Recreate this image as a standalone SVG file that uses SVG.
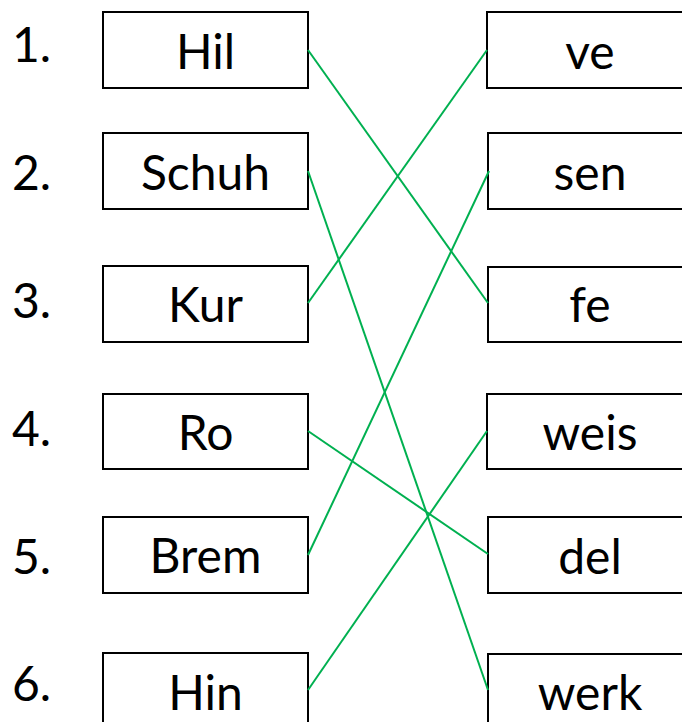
<svg xmlns="http://www.w3.org/2000/svg" width="682" height="722" viewBox="0 0 682 722">
<style>
.box{fill:#fff;stroke:#000;stroke-width:2}
.t{font-family:Lato,"Open Sans","Liberation Sans",sans-serif;font-size:48px;fill:#000}
.c{text-anchor:middle}
.ln{stroke:#00B050;stroke-width:2;fill:none}
</style>
<rect width="682" height="722" fill="#fff"/>
<g id="numbers">
<text class="t" x="12" y="62">1.</text>
<text class="t" x="12" y="190">2.</text>
<text class="t" x="12" y="318">3.</text>
<text class="t" x="12" y="446">4.</text>
<text class="t" x="12" y="574">5.</text>
<text class="t" x="12" y="701">6.</text>
</g>
<g id="L1"><rect class="box" x="103" y="12" width="205" height="76"/><text class="t c" x="205.5" y="69">Hil</text></g>
<g id="L2"><rect class="box" x="103" y="133" width="205" height="76"/><text class="t c" x="205.5" y="190">Schuh</text></g>
<g id="L3"><rect class="box" x="103" y="266" width="205" height="76"/><text class="t c" x="205.5" y="322">Kur</text></g>
<g id="L4"><rect class="box" x="103" y="394" width="205" height="75"/><text class="t c" x="205.5" y="450">Ro</text></g>
<g id="L5"><rect class="box" x="103" y="517" width="205" height="76"/><text class="t c" x="205.5" y="573">Brem</text></g>
<g id="L6"><rect class="box" x="103" y="653" width="205" height="76"/><text class="t c" x="205.5" y="710">Hin</text></g>
<g id="R1"><rect class="box" x="487" y="12" width="205" height="76"/><text class="t c" x="590" y="69">ve</text></g>
<g id="R2"><rect class="box" x="488" y="133" width="205" height="76"/><text class="t c" x="590" y="190">sen</text></g>
<g id="R3"><rect class="box" x="488" y="267" width="205" height="75"/><text class="t c" x="590" y="322">fe</text></g>
<g id="R4"><rect class="box" x="487" y="394" width="205" height="75"/><text class="t c" x="590" y="450">weis</text></g>
<g id="R5"><rect class="box" x="488" y="517" width="205" height="76"/><text class="t c" x="590" y="574">del</text></g>
<g id="R6"><rect class="box" x="488" y="654" width="205" height="76"/><text class="t c" x="590" y="710">werk</text></g>
<g id="connectors">
<line class="ln" x1="308" y1="50" x2="488" y2="303"/>
<line class="ln" x1="308" y1="171" x2="488" y2="690"/>
<line class="ln" x1="308" y1="303" x2="487" y2="50"/>
<line class="ln" x1="308" y1="431" x2="488" y2="554"/>
<line class="ln" x1="308" y1="555" x2="489" y2="171"/>
<line class="ln" x1="308" y1="690" x2="487" y2="431"/>
</g>
</svg>
